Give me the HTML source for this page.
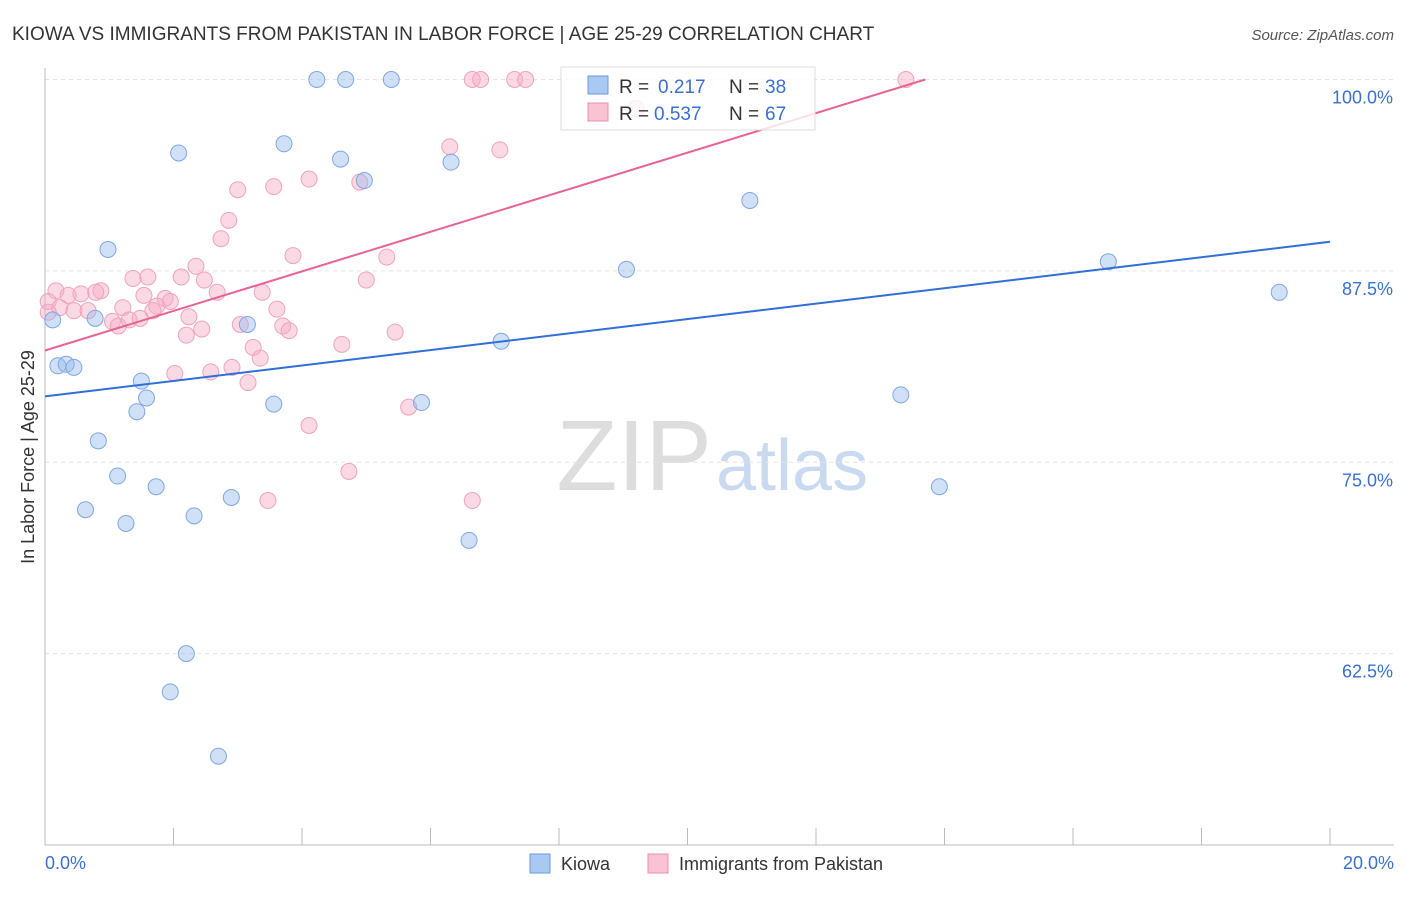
<!DOCTYPE html>
<html><head><meta charset="utf-8"><style>
body{margin:0;background:#fff;font-family:"Liberation Sans",sans-serif}
svg text{font-family:"Liberation Sans",sans-serif}
</style></head><body>
<svg id="chart" width="1406" height="892" xmlns="http://www.w3.org/2000/svg">
<text x="12" y="40" font-size="19" fill="#333">KIOWA VS IMMIGRANTS FROM PAKISTAN IN LABOR FORCE | AGE 25-29 CORRELATION CHART</text>
<text x="1394" y="40" font-size="15" fill="#555" font-style="italic" text-anchor="end">Source: ZipAtlas.com</text>
<text x="712" y="490" font-size="100" fill="#ddd" text-anchor="end" font-family="Liberation Serif">ZIP</text>
<text x="716" y="490" font-size="72" fill="#c9daf0">atlas</text>
<g id="grid"></g><g id="axes"></g><g id="marks"></g>
<text transform="translate(34,457) rotate(-90)" font-size="18" fill="#333" text-anchor="middle">In Labor Force | Age 25-29</text>
<text x="45" y="869" font-size="18" fill="#3a6fd0">0.0%</text>
<text x="1394" y="869" font-size="18" fill="#3a6fd0" text-anchor="end">20.0%</text>
<g>
<rect x="561" y="67" width="254" height="63" fill="#fff" fill-opacity="0.8" stroke="#ddd"/>
<rect x="588" y="76" width="20" height="18" fill="#a9c8f2" stroke="#6b9ae0"/>
<rect x="588" y="103" width="20" height="18" fill="#f9c3d4" stroke="#e890ad"/>
<text x="619" y="93" font-size="19" fill="#333">R =</text>
<text x="658" y="93" font-size="19" fill="#3a6fd0">0.217</text>
<text x="729" y="93" font-size="19" fill="#333">N =</text>
<text x="765" y="93" font-size="19" fill="#3a6fd0">38</text>
<text x="619" y="120" font-size="19" fill="#333">R =</text>
<text x="654" y="120" font-size="19" fill="#3a6fd0">0.537</text>
<text x="729" y="120" font-size="19" fill="#333">N =</text>
<text x="765" y="120" font-size="19" fill="#3a6fd0">67</text>
</g>
<g>
<rect x="530" y="854" width="20" height="19" fill="#a9c8f2" stroke="#6b9ae0"/>
<text x="561" y="870" font-size="18" fill="#333">Kiowa</text>
<rect x="648" y="854" width="20" height="19" fill="#f9c3d4" stroke="#e890ad"/>
<text x="679" y="870" font-size="18" fill="#333">Immigrants from Pakistan</text>
</g>
</svg>
<script>
const yTicks=[100,87.5,75,62.5];
const yTickLabels=["100.0%","87.5%","75.0%","62.5%"];
const kiowaX=[4.23,4.68,5.39,2.08,3.72,4.6,4.97,6.32,0.98,9.05,10.97,16.55,19.21,0.78,3.15,7.1,0.2,0.33,0.45,1.5,1.58,1.43,3.56,5.86,13.32,0.83,1.13,1.73,2.9,0.63,2.32,1.26,13.92,6.6,2.2,1.95,2.7,0.12];
const kiowaY=[100,100,100,95.2,95.8,94.8,93.4,94.6,88.9,87.6,92.1,88.1,86.1,84.4,84.0,82.9,81.3,81.4,81.2,80.3,79.2,78.3,78.8,78.9,79.4,76.4,74.1,73.4,72.7,71.9,71.5,71.0,73.4,69.9,62.5,60.0,55.8,84.3];
const pakX=[6.65,6.78,7.31,7.48,13.4,9.2,6.3,7.08,3.0,3.56,4.11,4.9,2.86,2.74,1.6,3.86,5.32,2.35,2.12,1.37,2.48,5.0,0.87,2.68,3.38,1.54,1.87,1.95,1.74,0.17,0.36,0.56,0.79,0.05,0.23,0.45,0.67,1.21,1.68,3.61,1.05,2.24,1.14,1.31,1.48,3.04,3.7,3.8,2.44,2.2,3.24,5.45,4.62,3.35,2.91,2.58,2.02,3.16,5.66,4.11,4.73,3.47,6.65,0.05];
const pakY=[100,100,100,100,100,98.1,95.6,95.4,92.8,93.0,93.5,93.3,90.8,89.6,87.1,88.5,88.4,87.8,87.1,87.0,86.9,86.9,86.2,86.1,86.1,85.9,85.7,85.5,85.2,86.2,85.9,86.0,86.1,85.5,85.1,84.9,84.9,85.1,84.9,85.0,84.2,84.5,83.9,84.3,84.4,84.0,83.9,83.6,83.7,83.3,82.5,83.5,82.7,81.8,81.2,80.9,80.8,80.2,78.6,77.4,74.4,72.5,72.5,84.8];
const kiowaFit=[79.3,89.4], pakFit=[82.3,100];
const X0=45,X1=1330,Y0=79.5,Y1=845;
const xs=v=>X0+(v/20)*(X1-X0), ys=v=>Y0+(100-v)/50*(Y1-Y0);
const NS="http://www.w3.org/2000/svg";
function mk(t,a,p){const e=document.createElementNS(NS,t);for(const k in a)e.setAttribute(k,a[k]);document.getElementById(p).appendChild(e);return e;}
yTicks.forEach((v,i)=>{
 const g=mk('line',{x1:X0,x2:1394,y1:ys(v),y2:ys(v),stroke:'#e4e4e4','stroke-dasharray':'4,4'},'grid');
 
 
 const t=mk('text',{x:1393,y:ys(v)+24,'font-size':18,fill:'#3a6fd0','text-anchor':'end'},'axes');
 t.textContent=yTickLabels[i];
 
 
});
const ax=mk('line',{x1:X0,x2:X0,y1:68,y2:Y1,stroke:'#bbb'},'axes');


const bx=mk('line',{x1:X0,x2:1394,y1:Y1,y2:Y1,stroke:'#bbb'},'axes');


for(let i=0;i<=10;i++){const tk=mk('line',{x1:xs(i*2),x2:xs(i*2),y1:Y1,y2:Y1-17,stroke:'#bbb'},'axes');
 
 }
pakX.forEach((x,i)=>{const c=mk('circle',{cx:xs(x),cy:ys(pakY[i]),r:8,fill:'rgba(246,170,196,0.45)',stroke:'#eea3bd','stroke-width':1},'marks');
 
 });
kiowaX.forEach((x,i)=>{const c=mk('circle',{cx:xs(x),cy:ys(kiowaY[i]),r:8,fill:'rgba(150,186,238,0.45)',stroke:'#7fa7e4','stroke-width':1},'marks');
 
 });
const l1=mk('line',{x1:xs(0),y1:ys(kiowaFit[0]),x2:xs(20),y2:ys(kiowaFit[1]),stroke:'#2f6fd6','stroke-width':2},'marks');


const l2=mk('line',{x1:xs(0),y1:ys(pakFit[0]),x2:xs(13.7),y2:ys(pakFit[1]),stroke:'#e8648e','stroke-width':2},'marks');


</script>
</body></html>
